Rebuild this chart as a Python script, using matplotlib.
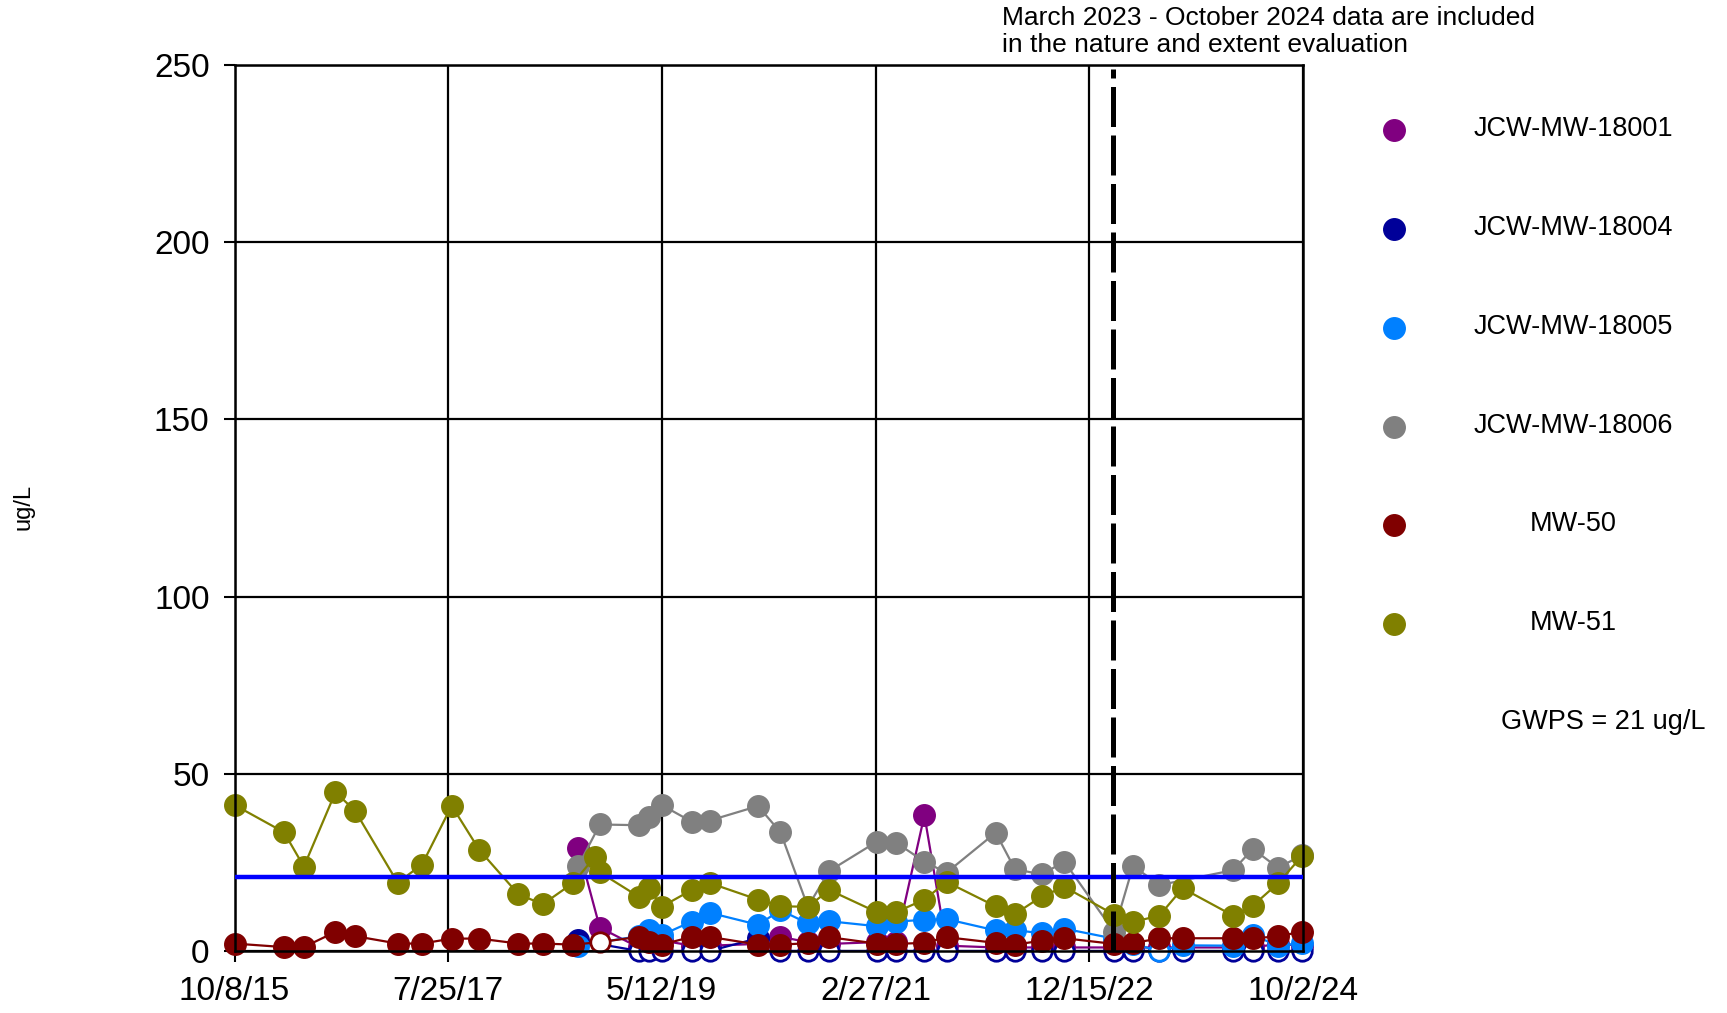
import numpy as np
import matplotlib
matplotlib.use('Agg')
import matplotlib.pyplot as plt
import matplotlib.dates as mdates
from matplotlib.lines import Line2D

plt.rcParams['font.family'] = ['Liberation Sans', 'DejaVu Sans']

# sampling dates shared by all wells
dates = ['2015-10-08', '2016-03-08', '2016-05-08', '2016-08-13', '2016-10-12',
         '2017-02-20', '2017-05-06', '2017-08-05', '2017-10-29', '2018-02-26',
         '2018-05-12', '2018-08-13', '2018-08-29', '2018-10-18', '2018-11-03',
         '2019-03-03', '2019-04-03', '2019-05-12', '2019-08-12', '2019-10-06',
         '2020-03-03', '2020-05-11', '2020-08-03', '2020-10-08', '2021-03-02',
         '2021-05-01', '2021-07-27', '2021-10-03', '2022-03-03', '2022-05-01',
         '2022-07-22', '2022-09-30', '2023-03-01', '2023-04-29', '2023-07-19',
         '2023-09-28', '2024-03-01', '2024-05-01', '2024-07-17', '2024-09-29']

N = None
wells = ['JCW-MW-18001', 'JCW-MW-18004', 'JCW-MW-18005', 'JCW-MW-18006', 'MW-50', 'MW-51']
colors = ['#800080', '#000099', '#0080FF', '#808080', '#800000', '#808000']

mw18001 = [N]*12 + [29.2, N, 6.6, 1.0, 2.5, 3.0, 1.5, 1.5, 2.0, 4.0, 2.5, 2.0, 2.5, 2.5,
                    38.3, 1.5, 1.0, 1.0, 1.0, 1.0, 1.0, 1.0, 1.0, 1.0, 1.0, 1.0, 2.0, 1.5]
mw18004 = [N]*12 + [3.0, N, N, 0, 0, 0, 0, 0, 3.6, 0, 0, 0, 0, 0,
                    0, 0, 0, 0, 0, 0, 0, 0, 0, 0, 0, 0, 0, 0]
mw18005 = [N]*12 + [1.5, N, N, 4.2, 6.0, 4.5, 8.3, 10.8, 7.4, 11.5, 7.8, 8.4, 7.0, 8.3,
                    8.8, 9.0, 5.8, 5.9, 5.0, 6.3, 3.5, 2.0, 0, 1.6, 1.5, 4.5, 1.5, 2.2]
mw18006 = [N]*12 + [24.0, N, 35.7, 35.5, 37.9, 41.2, 36.5, 36.8, 40.9, 33.5, 12.5, 22.6, 30.8, 30.6,
                    25.2, 22.1, 33.4, 23.1, 21.6, 25.2, 5.5, 24.0, 18.6, N, 22.8, 28.8, 23.5, 27.0]
mw50 = [2.1, 1.1, 1.1, 5.4, 4.2, 2.1, 2.1, 3.5, 3.5, 2.1, 2.1, 1.8, N, N, 2.5,
        4.0, 2.5, 1.8, 4.0, 4.0, 1.8, 1.8, 2.2, 3.9, 2.1, 2.0, 2.3, 3.9, 2.3, 1.8,
        2.9, 3.6, 2.0, 2.2, 3.6, 3.6, 3.6, 3.6, 4.1, 5.5]
mw51 = [41.2, 33.5, 23.8, 44.8, 39.6, 19.3, 24.4, 41.0, 28.5, 16.0, 13.2, 19.2, N, 26.5, 22.2,
        15.3, 17.8, 12.5, 17.2, 19.2, 14.5, 12.6, 12.5, 17.2, 11.0, 11.0, 14.5, 19.5, 12.6, 10.4,
        15.4, 18.1, 10.3, 8.2, 10.0, 17.7, 10.0, 12.8, 19.1, 26.8]
series = [mw18001, mw18004, mw18005, mw18006, mw50, mw51]

# non-detects (index into dates), drawn as open circles
nondetects = [[], [15, 16, 17, 18, 19] + list(range(21, 40)), [34], [], [14], []]

gwps = 21
eval_start = '2023-02-27'
xticks = ['2015-10-08', '2017-07-25', '2019-05-12', '2021-02-27', '2022-12-15', '2024-10-02']
xlabels = ['10/8/15', '7/25/17', '5/12/19', '2/27/21', '12/15/22', '10/2/24']

d = np.array(dates, dtype='datetime64[D]')

fig = plt.figure(figsize=(17.27, 10.13), dpi=100)
ax = fig.add_axes([0.1358, 0.0612, 0.6187, 0.8746])

for vals, nd, c in zip(series, nondetects, colors):
    idx = [i for i, v in enumerate(vals) if v is not None]
    x = d[idx]
    y = np.array([vals[i] for i in idx], dtype=float)
    ax.plot(x, y, color=c, lw=1.6, zorder=3, clip_on=False)
    det = [k for k, i in enumerate(idx) if i not in nd]
    und = [k for k, i in enumerate(idx) if i in nd]
    ax.plot(x[det], y[det], 'o', ms=15.5, color=c, mec=c, zorder=3, clip_on=False)
    ax.plot(x[und], y[und], 'o', ms=14, mfc='white', mec=c, mew=2, zorder=3, clip_on=False)

ax.axhline(gwps, color='#0000FF', lw=3.2, zorder=6)
ax.axvline(np.datetime64(eval_start), ymin=0, ymax=0.995, color='black', lw=3.6,
           ls=(0, (8, 1.7)), zorder=7)

ax.set_xlim(np.datetime64(xticks[0]), np.datetime64(xticks[-1]))
ax.set_ylim(0, 250)
ax.set_xticks(np.array(xticks, dtype='datetime64[D]'))
ax.set_xticklabels(xlabels)
ax.set_yticks([0, 50, 100, 150, 200, 250])
ax.tick_params(axis='both', labelsize=24, length=8, width=1.5, direction='out', pad=10)
ax.grid(True, color='black', lw=1.6)
ax.set_axisbelow(True)
for s in ax.spines.values():
    s.set_linewidth(1.8)
    s.set_zorder(5)

fig.text(24 / 1727, 1 - 507 / 1013, 'ug/L', rotation=90, fontsize=17, ha='center', va='center')

fig.text(1002 / 1727, 1 - 6 / 1013,
         'March 2023 - October 2024 data are included\nin the nature and extent evaluation',
         fontsize=19, ha='left', va='top', linespacing=1.15)

# legend
leg_y = [130, 229, 328, 427, 525, 624]
for name, c, yy in zip(wells, colors, leg_y):
    fig.add_artist(Line2D([1394 / 1727], [1 - yy / 1013], marker='o', ms=15.5, color=c,
                          ls='none', transform=fig.transFigure))
    fig.text(1573 / 1727, 1 - (yy - 1) / 1013, name, fontsize=19.5, ha='center', va='center')
fig.text(1603 / 1727, 1 - 722 / 1013, 'GWPS = %d ug/L' % gwps, fontsize=19.5, ha='center', va='center')

fig.savefig('out.png', dpi=100)
